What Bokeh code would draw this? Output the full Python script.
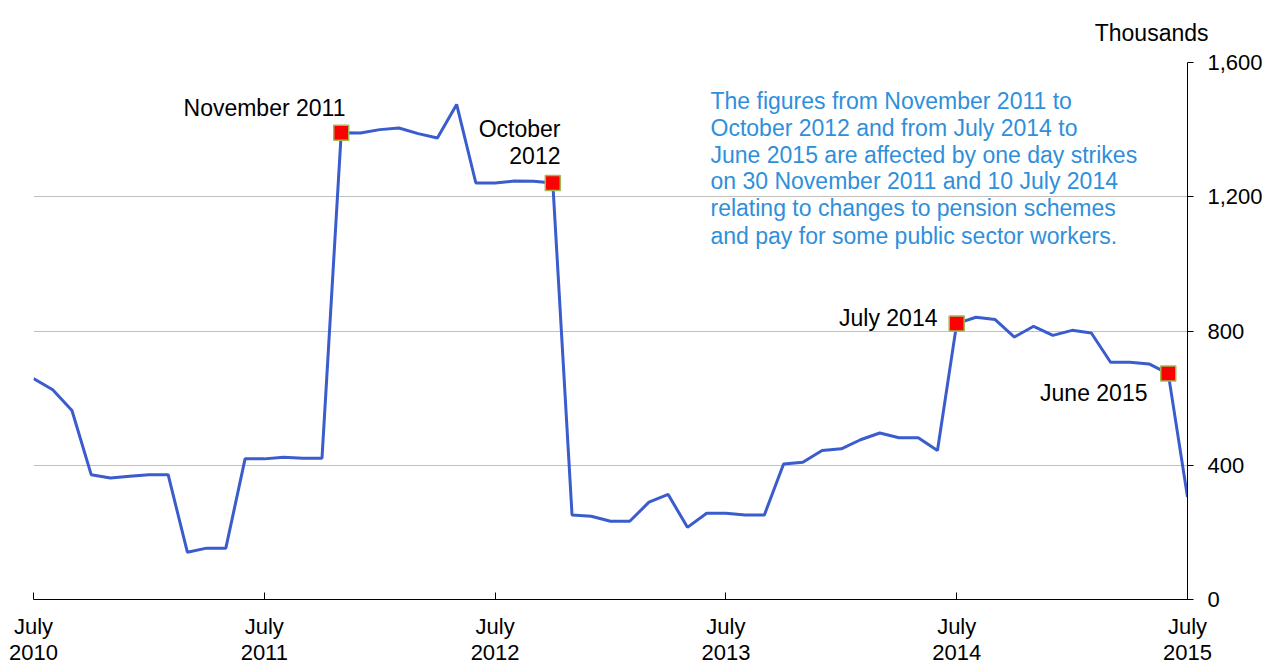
import pandas as pd
from bokeh.plotting import figure
from bokeh.models import Range1d, FixedTicker, NumeralTickFormatter, Label, ColumnDataSource, Title
from bokeh.embed import file_html
from bokeh.resources import INLINE

# Monthly categories, July 2010 .. July 2015
months = [str(p) for p in pd.period_range("2010-07", "2015-07", freq="M")]

# Values (thousands)
values = [
    658, 625, 563, 372, 362, 367, 372, 372, 141, 153, 153, 419,   # Jul10-Jun11
    419, 424, 421, 421, 1391, 1390, 1400, 1405, 1388, 1375, 1475, 1241,  # Jul11-Jun12
    1241, 1247, 1246, 1241, 252, 248, 233, 233, 290, 313, 215, 257,  # Jul12-Jun13
    257, 252, 252, 404, 409, 444, 449, 476, 496, 482, 482, 444,   # Jul13-Jun14
    822, 841, 834, 782, 814, 787, 802, 794, 707, 707, 702, 673,   # Jul14-Jun15
    305,                                                           # Jul15
]

# Highlighted months (start / end of strike-affected periods)
flag_months = ["2011-11", "2012-10", "2014-07", "2015-06"]

tick_months = ["2010-07", "2011-07", "2012-07", "2013-07", "2014-07", "2015-07"]
tick_labels = ["July\n2010", "July\n2011", "July\n2012", "July\n2013", "July\n2014", "July\n2015"]

y_ticks = [0, 400, 800, 1200, 1600]

note_lines = [
    "The figures from November 2011 to",
    "October 2012 and from July 2014 to",
    "June 2015 are affected by one day strikes",
    "on 30 November 2011 and 10 July 2014",
    "relating to changes to pension schemes",
    "and pay for some public sector workers.",
]

FONT = "Liberation Sans"
FS = "23px"
TFS = "22px"

x = list(range(len(months)))
src = ColumnDataSource(dict(x=x, y=values))
fx = [months.index(m) for m in flag_months]
fy = [values[i] for i in fx]
fsrc = ColumnDataSource(dict(x=fx, y=fy))

p = figure(width=1274, height=667, output_backend="svg", toolbar_location=None,
           x_range=Range1d(0, len(months) - 1), y_range=Range1d(0, 1600),
           y_axis_location="right",
           min_border_left=33, min_border_right=87, min_border_top=62, min_border_bottom=68)
p.outline_line_color = None
p.background_fill_color = "white"
p.border_fill_color = "white"

p.add_layout(Title(text="Thousands", align="right", offset=-21, standoff=33,
                   text_font=FONT, text_font_size=FS, text_font_style="normal",
                   text_line_height=1.0, text_color="black"), "above")

# grid
p.xgrid.visible = False
p.ygrid.ticker = FixedTicker(ticks=y_ticks[1:])
p.ygrid.grid_line_color = "#C0C0C0"
p.ygrid.grid_line_width = 1

# x axis
xa = p.xaxis[0]
xa.ticker = FixedTicker(ticks=[months.index(m) for m in tick_months])
xa.major_label_overrides = {months.index(m): lab for m, lab in zip(tick_months, tick_labels)}
xa.major_tick_in = 7
xa.major_tick_out = 0
xa.minor_tick_line_color = None
xa.axis_line_color = "black"
xa.major_tick_line_color = "black"
xa.major_label_text_font = FONT
xa.major_label_text_font_size = TFS
xa.major_label_text_color = "black"
xa.major_label_text_line_height = 1.05
xa.major_label_standoff = 14

# y axis (right)
ya = p.yaxis[0]
ya.ticker = FixedTicker(ticks=y_ticks)
ya.formatter = NumeralTickFormatter(format="0,0")
ya.major_tick_in = 0
ya.major_tick_out = 6
ya.minor_tick_line_color = None
ya.axis_line_color = "black"
ya.major_tick_line_color = "black"
ya.major_label_text_font = FONT
ya.major_label_text_font_size = TFS
ya.major_label_text_color = "black"
ya.major_label_standoff = 14

# data
p.line("x", "y", source=src, line_color="#3A5CCC", line_width=3)
p.scatter("x", "y", source=fsrc, marker="square", size=15,
          fill_color="#FF0000", line_color="#9BBB59", line_width=1.5)

def lab(text, xv, yv, align="right", color="black"):
    p.add_layout(Label(x=xv, y=yv, text=text, text_align=align, text_baseline="middle",
                       text_font=FONT, text_font_size=FS, text_color=color))

lab("November 2011", 16.22, 1463)
lab("October", 27.4, 1403)
lab("2012", 27.4, 1323)
lab("July 2014", 47.0, 840)
lab("June 2015", 57.92, 614)

note_y = [1484, 1404, 1323, 1246, 1165, 1082]
for t, yv in zip(note_lines, note_y):
    lab(t, 35.2, yv, align="left", color="#2F8FDB")

open("out.html", "w").write(file_html(p, INLINE))
